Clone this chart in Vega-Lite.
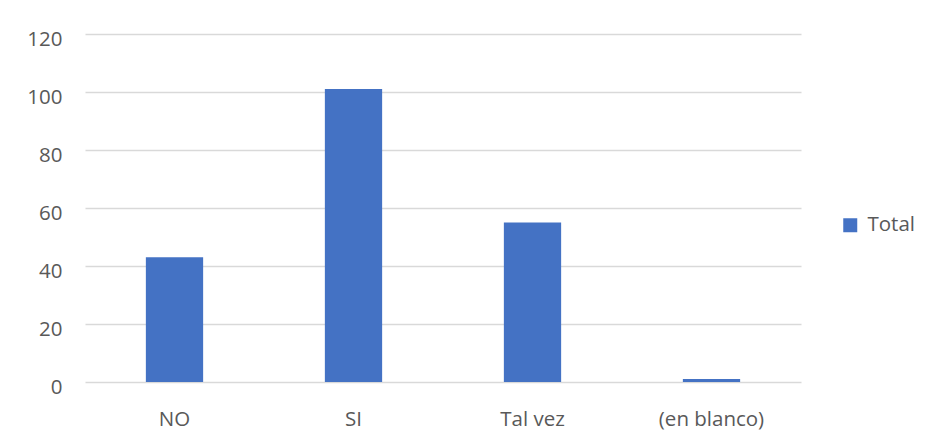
{
  "$schema": "https://vega.github.io/schema/vega-lite/v6.json",
  "width": 716,
  "height": 348,
  "autosize": "none",
  "padding": {"left": 85, "top": 34, "right": 127, "bottom": 59},
  "background": "white",
  "config": {
    "view": {"stroke": null},
    "font": "Open Sans"
  },
  "data": {
    "values": [
      {"respuesta": "NO", "total": 43, "serie": "Total"},
      {"respuesta": "SI", "total": 101, "serie": "Total"},
      {"respuesta": "Tal vez", "total": 55, "serie": "Total"},
      {"respuesta": "(en blanco)", "total": 1, "serie": "Total"}
    ]
  },
  "mark": {"type": "bar"},
  "encoding": {
    "x": {
      "field": "respuesta",
      "type": "nominal",
      "sort": null,
      "scale": {"paddingInner": 0.68, "paddingOuter": 0.34},
      "axis": {
        "title": null,
        "labelAngle": 0,
        "domain": false,
        "ticks": false,
        "labelPadding": 27,
        "labelFontSize": 20.5,
        "labelColor": "#595959",
        "labelFont": "Open Sans"
      }
    },
    "y": {
      "field": "total",
      "type": "quantitative",
      "scale": {"domain": [0, 120], "nice": false},
      "axis": {
        "title": null,
        "values": [0, 20, 40, 60, 80, 100, 120],
        "domain": false,
        "ticks": false,
        "grid": true,
        "gridColor": "#d9d9d9",
        "gridWidth": 1.5,
        "labelPadding": 23,
        "labelFontSize": 20.5,
        "labelColor": "#595959",
        "labelFont": "Open Sans",
        "labelOffset": 5
      }
    },
    "color": {
      "field": "serie",
      "type": "nominal",
      "scale": {"range": ["#4472C4"]},
      "legend": {
        "title": null,
        "orient": "none",
        "legendX": 755,
        "legendY": 181,
        "symbolType": "square",
        "symbolSize": 196,
        "symbolStrokeWidth": 0,
        "labelFontSize": 20.5,
        "labelColor": "#595959",
        "labelFont": "Open Sans",
        "labelOffset": 7
      }
    }
  }
}
